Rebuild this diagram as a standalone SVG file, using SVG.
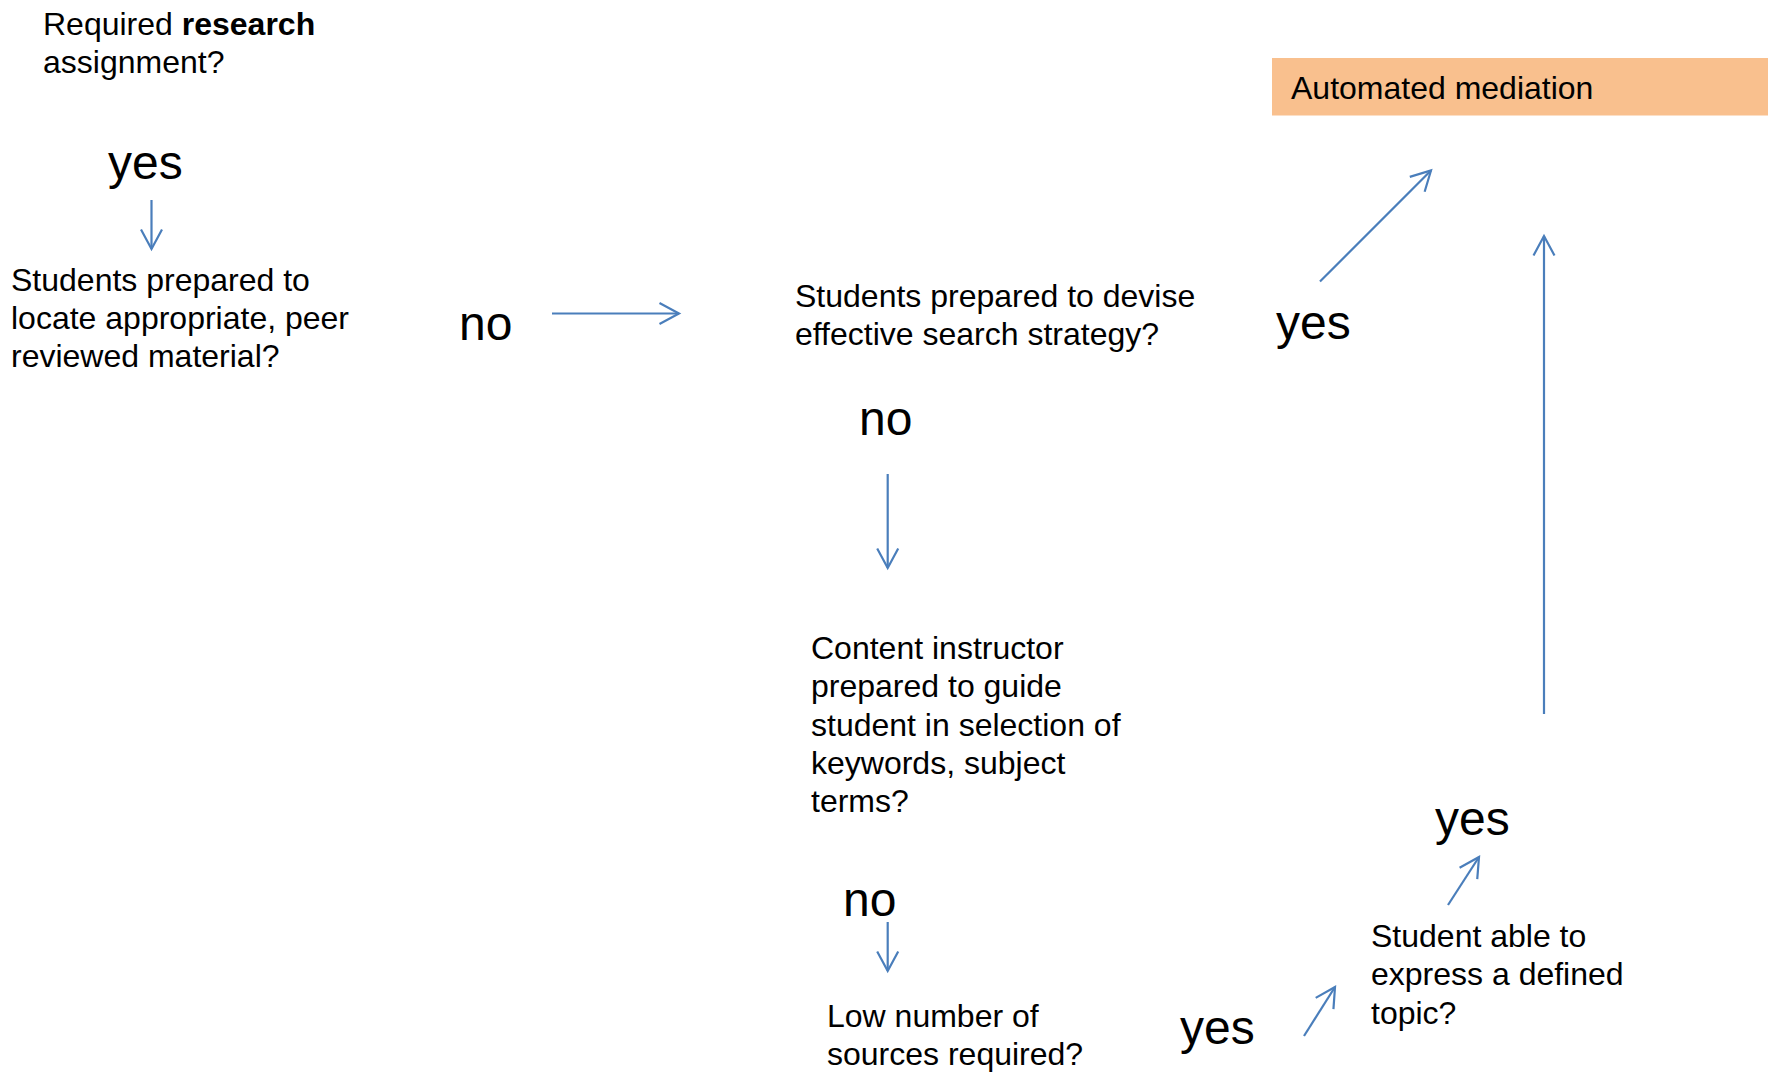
<svg xmlns="http://www.w3.org/2000/svg" width="1768" height="1074" viewBox="0 0 1768 1074">
  <style>
    .t { font-family: "Liberation Sans", Arial, sans-serif; font-size: 32px; fill: #000; }
    .lbl { font-family: "Liberation Sans", Arial, sans-serif; font-size: 48px; fill: #000; }
    .b { font-weight: bold; }
    .conn { stroke: #4A7EBB; stroke-width: 2.2; fill: none; marker-end: url(#open); }
  </style>
  <defs>
    <marker id="open" viewBox="-24 -14 28 28" markerWidth="28" markerHeight="28" refX="0" refY="0" markerUnits="userSpaceOnUse" orient="auto" overflow="visible">
      <path d="M -19.5,-10.5 L 0,0 L -19.5,10.5" fill="none" stroke="#4A7EBB" stroke-width="2.2" stroke-linejoin="miter"/>
    </marker>
  </defs>
  <rect width="1768" height="1074" fill="#fff"/>

  <!-- outcome box -->
  <g id="automated-mediation">
    <rect x="1272" y="58" width="496" height="57.5" fill="#F9C08E"/>
    <text class="t" x="1291" y="99">Automated mediation</text>
  </g>

  <g id="q-research-assignment">
    <text class="t" x="43" y="34.5">Required <tspan class="b">research</tspan></text>
    <text class="t" x="43" y="72.8">assignment?</text>
  </g>

  <g id="q-locate-material">
    <text class="t" x="11" y="290.5">Students prepared to</text>
    <text class="t" x="11" y="328.8">locate appropriate, peer</text>
    <text class="t" x="11" y="367.1">reviewed material?</text>
  </g>

  <g id="q-search-strategy">
    <text class="t" x="795" y="306.5">Students prepared to devise</text>
    <text class="t" x="795" y="344.8">effective search strategy?</text>
  </g>

  <g id="q-instructor-guide">
    <text class="t" x="811" y="659">Content instructor</text>
    <text class="t" x="811" y="697.3">prepared to guide</text>
    <text class="t" x="811" y="735.6">student in selection of</text>
    <text class="t" x="811" y="773.9">keywords, subject</text>
    <text class="t" x="811" y="812.2">terms?</text>
  </g>

  <g id="q-low-sources">
    <text class="t" x="827" y="1027">Low number of</text>
    <text class="t" x="827" y="1065.3">sources required?</text>
  </g>

  <g id="q-defined-topic">
    <text class="t" x="1371" y="947">Student able to</text>
    <text class="t" x="1371" y="985.3">express a defined</text>
    <text class="t" x="1371" y="1023.6">topic?</text>
  </g>

  <!-- branch labels -->
  <g id="labels">
    <text class="lbl" x="108" y="179">yes</text>
    <text class="lbl" x="459" y="340">no</text>
    <text class="lbl" x="1276" y="339">yes</text>
    <text class="lbl" x="859" y="435">no</text>
    <text class="lbl" x="843" y="916">no</text>
    <text class="lbl" x="1180" y="1044">yes</text>
    <text class="lbl" x="1435" y="835">yes</text>
  </g>

  <!-- connectors -->
  <g id="connectors">
    <line class="conn" x1="151.5" y1="200" x2="151.5" y2="249"/>
    <line class="conn" x1="552" y1="313.5" x2="679" y2="313.5"/>
    <line class="conn" x1="887.7" y1="474" x2="887.7" y2="568"/>
    <line class="conn" x1="887.7" y1="922" x2="887.7" y2="971"/>
    <line class="conn" x1="1320" y1="281.5" x2="1431" y2="170.5"/>
    <line class="conn" x1="1544" y1="714" x2="1544" y2="236"/>
    <line class="conn" x1="1304" y1="1036" x2="1335" y2="987"/>
    <line class="conn" x1="1448" y1="905" x2="1479" y2="857"/>
  </g>
</svg>
